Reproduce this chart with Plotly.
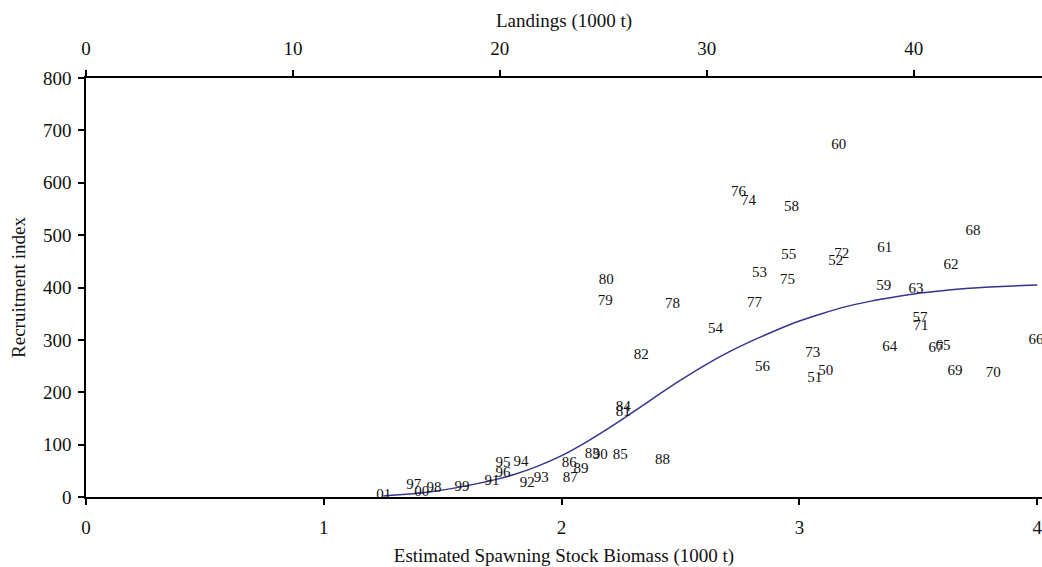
import plotly.graph_objects as go

# Year labels with estimated SSB (1000 t) and recruitment index
years = ["50", "51", "52", "53", "54", "55", "56", "57", "58", "59",
         "60", "61", "62", "63", "64", "65", "66", "67", "68", "69",
         "70", "71", "72", "73", "74", "75", "76", "77", "78", "79",
         "80", "81", "82", "83", "84", "85", "86", "87", "88", "89",
         "90", "91", "92", "93", "94", "95", "96", "97", "98", "99",
         "00", "01"]
ssb = [3.111, 3.064, 3.153, 2.832, 2.647, 2.955, 2.845, 3.507, 2.967, 3.355,
       3.165, 3.359, 3.637, 3.490, 3.380, 3.604, 3.995, 3.574, 3.730, 3.654,
       3.815, 3.511, 3.178, 3.056, 2.786, 2.950, 2.744, 2.811, 2.466, 2.183,
       2.188, 2.259, 2.335, 2.129, 2.259, 2.247, 2.032, 2.036, 2.424, 2.082,
       2.162, 1.707, 1.855, 1.914, 1.829, 1.753, 1.753, 1.378, 1.463, 1.581,
       1.412, 1.252]
recruit = [240, 227, 451, 428, 321, 462, 248, 342, 554, 403,
           671, 474, 443, 397, 286, 288, 300, 284, 508, 240,
           236, 326, 464, 275, 564, 414, 581, 370, 368, 374,
           414, 162, 271, 81, 171, 79, 64, 35, 70, 53,
           79, 30, 26, 35, 66, 64, 45, 22, 16, 18,
           9, 3]

# Fitted stock-recruitment curve
curve_x = [1.25, 1.45, 1.65, 1.80, 1.90, 2.00, 2.10, 2.20, 2.30, 2.40,
           2.50, 2.60, 2.70, 2.80, 2.90, 3.00, 3.10, 3.20, 3.30, 3.40,
           3.50, 3.60, 3.70, 3.80, 3.90, 4.00]
curve_y = [2, 10, 26, 43, 59, 79, 104, 132, 162, 193,
           223, 251, 276, 298, 318, 336, 351, 364, 374, 382,
           389, 394, 398, 401, 403, 405]

x_ticks = [0, 1, 2, 3, 4]
y_ticks = [0, 100, 200, 300, 400, 500, 600, 700, 800]
landing_ticks = [0, 10, 20, 30, 40]

serif = "Liberation Serif, Times New Roman, serif"

fig = go.Figure()
fig.add_trace(go.Scatter(
    x=curve_x, y=curve_y, mode="lines",
    line=dict(color="#34348f", width=1.5, shape="spline", smoothing=0.8),
    showlegend=False, hoverinfo="skip"))
fig.add_trace(go.Scatter(
    x=ssb, y=recruit, mode="text", text=years,
    textposition="middle center",
    textfont=dict(family=serif, size=15, color="#111111"),
    showlegend=False, cliponaxis=False))
fig.add_trace(go.Scatter(x=[], y=[], xaxis="x2", showlegend=False,
                         hoverinfo="skip"))

tick_font = dict(family=serif, size=19, color="#111111")
title_font = dict(family=serif, size=19, color="#111111")

fig.update_layout(
    width=1042, height=567,
    margin=dict(l=86, r=0, t=78, b=70),
    paper_bgcolor="white", plot_bgcolor="white",
    xaxis=dict(
        range=[0, 4.02], tickvals=x_ticks, showgrid=False, zeroline=False,
        automargin=False, ticklabeloverflow="allow",
        showline=True, linecolor="black", linewidth=1.5,
        ticks="outside", ticklen=6, tickwidth=1.5, tickcolor="black",
        tickfont=tick_font, ticklabelstandoff=6,
        title=dict(text="Estimated Spawning Stock Biomass (1000 t)",
                   font=title_font, standoff=12),
    ),
    xaxis2=dict(
        overlaying="x", side="top", range=[0, 46.2], tickvals=landing_ticks,
        showgrid=False, zeroline=False, automargin=False,
        showline=True, linecolor="black", linewidth=1.5,
        ticks="outside", ticklen=6, tickwidth=1.5, tickcolor="black",
        tickfont=tick_font, ticklabelstandoff=8,
        title=dict(text="Landings (1000 t)", font=title_font, standoff=5),
    ),
    yaxis=dict(
        range=[0, 800], tickvals=y_ticks, showgrid=False, zeroline=False,
        automargin=False,
        showline=True, linecolor="black", linewidth=1.5,
        ticks="outside", ticklen=6, tickwidth=1.5, tickcolor="black",
        tickfont=tick_font, ticklabelstandoff=3,
        title=dict(text="Recruitment index", font=title_font, standoff=12),
    ),
)

# Remove the browser's default page margin so the figure fills the window
fig.write_html("out.html",
               config={"displayModeBar": False},
               post_script="document.body.style.margin='0px';")
